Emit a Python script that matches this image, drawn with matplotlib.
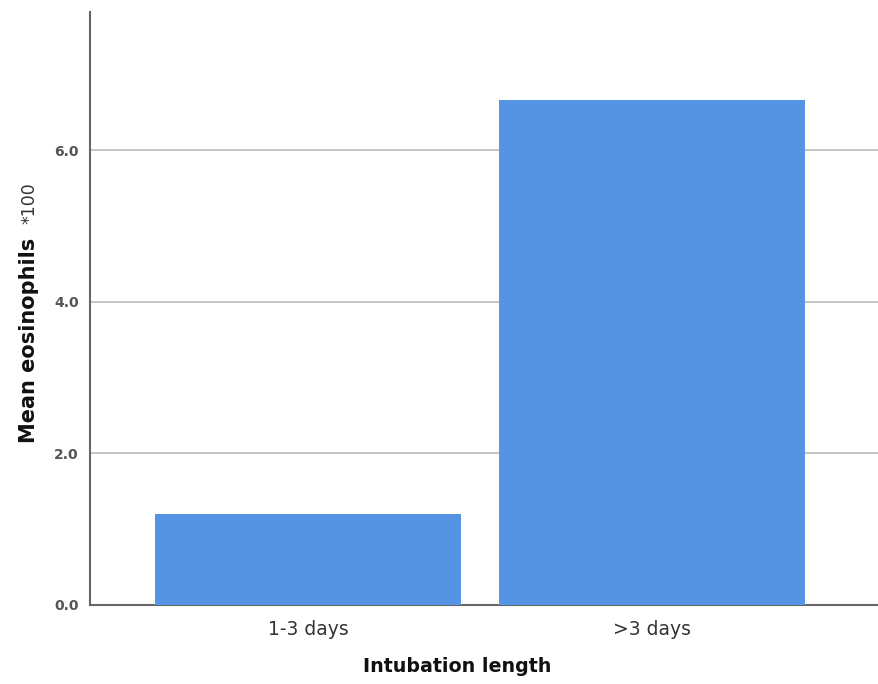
import matplotlib
matplotlib.use("Agg")
import matplotlib.pyplot as plt

categories = ["1-3 days", ">3 days"]
values = [1.20, 6.66]
yticks = [0.0, 2.0, 4.0, 6.0]
ytick_labels = ["0.0", "2.0", "4.0", "6.0"]

plt.rcParams['font.family'] = ['DejaVu Sans']

fig = plt.figure(figsize=(8.79, 6.84), dpi=100)
ax = fig.add_axes([90/879, 1-605/684, (878-90)/879, (605-12)/684])

x = list(range(len(categories)))
ax.bar(x, values, width=0.89, color="#5594E2", zorder=3)
ax.set_xlim(-0.634, 1.656)
ax.set_ylim(0, 7.82)
ax.set_yticks(yticks)
ax.set_yticklabels(ytick_labels, fontsize=10, color="#555555", fontweight="bold")
ax.set_xticks(x)
ax.set_xticklabels(categories, fontsize=13.5, color="#333333")
ax.tick_params(axis='both', length=0)
ax.tick_params(axis='y', pad=8)
ax.tick_params(axis='x', pad=11)
ax.yaxis.grid(True, color="#bbbbbb", linewidth=1.2, zorder=0)
for s in ["top", "right"]:
    ax.spines[s].set_visible(False)
ax.spines["left"].set_color("#666666")
ax.spines["bottom"].set_color("#666666")
ax.spines["left"].set_linewidth(1.5)
ax.spines["bottom"].set_linewidth(1.5)

fig.text(457/879, 1-666/684, "Intubation length", fontsize=13.7,
         fontweight="bold", ha="center", va="center", color="#111111")
fig.text(29/879, 1-340/684, "Mean eosinophils", rotation=90, fontsize=15,
         fontweight="bold", ha="center", va="center", color="#111111")
fig.text(29/879, 1-203/684, "*100", rotation=90, fontsize=12.5,
         ha="center", va="center", color="#333333")

fig.savefig("out.png", dpi=100)
